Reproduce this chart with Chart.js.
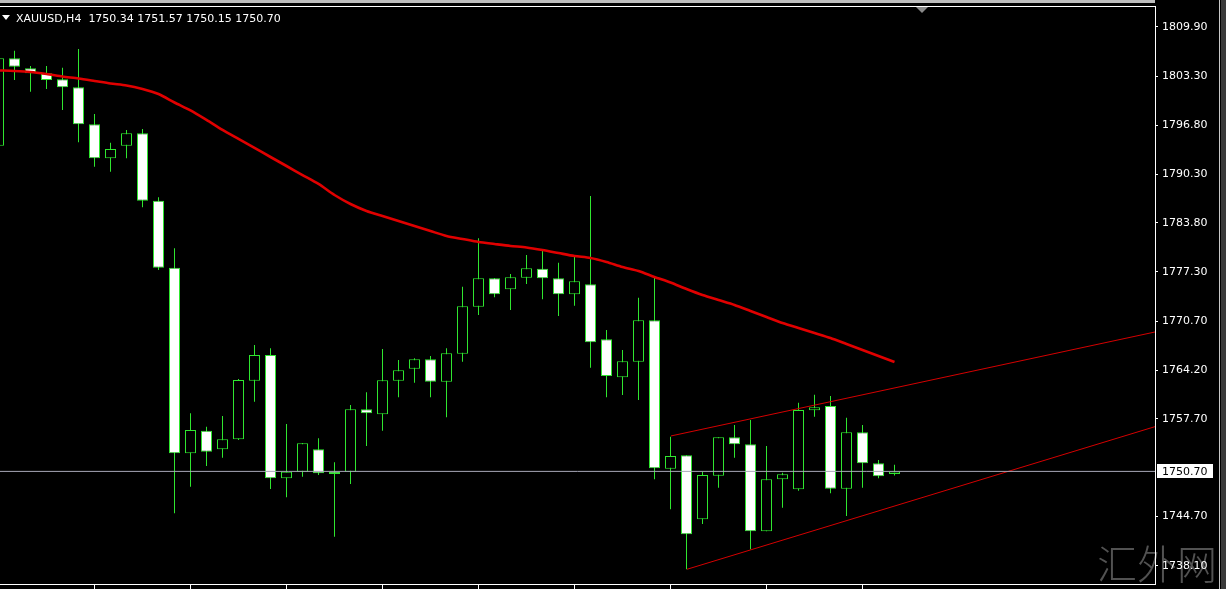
<!DOCTYPE html>
<html><head><meta charset="utf-8">
<style>html,body{margin:0;padding:0;background:#000;overflow:hidden}
#wrap{position:relative;width:1226px;height:589px}</style>
<script src="https://cdn.jsdelivr.net/npm/chart.js@4.4.0/dist/chart.umd.min.js"></script>
</head><body><div id="wrap"><canvas id="c"></canvas></div>
<script>
// ---- data (H4 bars, left to right) ----
const symbolLabel = 'XAUUSD,H4';
const bars = [0,1,2,3,4,5,6,7,8,9,10,11,12,13,14,15,16,17,18,19,20,21,22,23,24,25,26,27,28,29,30,31,32,33,34,35,36,37,38,39,40,41,42,43,44,45,46,47,48,49,50,51,52,53,54,55,56];
const opens = [1794.09,1805.73,1804.40,1803.73,1802.93,1801.87,1796.94,1792.41,1794.09,1795.74,1786.76,1777.84,1753.11,1756.12,1753.64,1754.98,1762.78,1766.21,1749.78,1750.66,1753.64,1750.66,1750.66,1758.97,1758.31,1762.78,1764.38,1765.63,1762.65,1766.38,1772.64,1776.42,1774.96,1776.50,1777.70,1776.42,1774.29,1775.62,1768.30,1763.24,1765.31,1770.83,1751.06,1752.85,1744.32,1750.13,1755.24,1754.31,1742.72,1749.65,1748.32,1758.84,1759.41,1748.40,1755.91,1751.78,1750.34];
const highs = [1806.20,1806.74,1804.70,1804.70,1804.48,1806.97,1798.31,1794.49,1796.18,1796.31,1787.21,1780.42,1758.44,1756.66,1758.08,1763.01,1767.54,1767.10,1757.02,1754.48,1755.11,1751.91,1759.55,1761.24,1767.01,1765.54,1765.77,1766.07,1767.10,1775.31,1781.75,1776.46,1777.00,1779.53,1780.19,1778.50,1779.44,1787.39,1769.54,1766.87,1773.84,1776.56,1755.32,1752.85,1750.66,1755.24,1756.88,1757.55,1754.08,1750.53,1759.85,1760.92,1760.75,1757.85,1756.88,1752.22,1751.57];
const lows = [1793.50,1802.84,1801.28,1801.64,1798.84,1794.54,1791.29,1790.62,1792.41,1785.88,1777.53,1745.12,1748.66,1751.42,1752.53,1754.88,1759.99,1748.36,1747.25,1749.99,1750.22,1742.00,1749.02,1754.08,1756.12,1760.57,1762.52,1760.57,1757.91,1765.31,1771.54,1773.89,1772.20,1775.67,1773.63,1771.40,1772.77,1764.52,1760.57,1760.88,1760.21,1749.65,1745.65,1737.66,1743.69,1748.53,1752.53,1740.32,1742.72,1745.87,1748.13,1757.99,1747.78,1744.76,1748.53,1749.78,1750.15];
const closes = [1805.73,1804.61,1803.73,1802.84,1801.87,1796.94,1792.41,1793.65,1795.74,1786.76,1777.84,1753.11,1756.22,1753.33,1754.98,1762.88,1766.21,1749.78,1750.66,1754.44,1750.45,1750.36,1758.97,1758.44,1762.84,1764.17,1765.63,1762.65,1766.43,1772.69,1776.42,1774.29,1776.56,1777.76,1776.42,1774.29,1776.02,1767.90,1763.41,1765.37,1770.83,1751.11,1752.75,1742.32,1750.22,1755.24,1754.31,1742.72,1749.65,1750.32,1758.88,1759.24,1748.40,1755.91,1751.78,1750.05,1750.70];
const maValues = [1804.11,1804.04,1803.91,1803.64,1803.31,1803.04,1802.71,1802.37,1802.11,1801.64,1800.97,1799.84,1798.78,1797.51,1796.18,1794.98,1793.78,1792.58,1791.38,1790.18,1788.99,1787.52,1786.32,1785.39,1784.72,1784.06,1783.39,1782.72,1782.06,1781.66,1781.26,1780.99,1780.73,1780.53,1780.19,1779.79,1779.39,1779.13,1778.60,1777.93,1777.40,1776.60,1775.86,1775.00,1774.20,1773.53,1772.87,1772.07,1771.27,1770.47,1769.80,1769.14,1768.47,1767.67,1766.87,1766.07,1765.27];
const upperTrendBars = [42.03, 72.28];
const upperTrendPrices = [1755.42, 1769.27];
const lowerTrendBars = [43.03, 72.28];
const lowerTrendPrices = [1737.66, 1756.66];
const priceTicks = [1809.90,1803.30,1796.80,1790.30,1783.80,1777.30,1770.70,1764.20,1757.70,1744.70,1738.10];
const timeTickBars = [6,12,18,24,30,36,42,48,54];
const lastBar = {open:1750.34, high:1751.57, low:1750.15, close:1750.70};
const watermark = '汇外网';

// ---- view range ----
const xMin = 0.09375, xMax = 72.28125;
const yMin = 1735.70, yMax = 1812.56;
const GREEN = '#2fe62f';
const bodyFill = closes.map((c,i)=> c >= opens[i] ? '#000000' : '#ffffff');

const extras = {
  id:'extras',
  beforeDraw(chart){
    const ctx = chart.ctx, a = chart.chartArea;
    ctx.save();
    ctx.fillStyle = '#000'; ctx.fillRect(0,0,chart.width,chart.height);
    ctx.fillStyle = '#bdbdbd'; ctx.fillRect(0,0,a.right,3);
    ctx.fillStyle = '#ffffff'; ctx.fillRect(0,a.top-1,a.right+1,1);
    ctx.fillStyle = '#c8c8c8'; ctx.fillRect(1219,0,1,chart.height);
    ctx.fillStyle = '#3a3a3a'; ctx.fillRect(1221,0,5,chart.height);
    ctx.font = '300 40px "Noto Sans CJK SC"';
    ctx.fillStyle = 'rgba(150,150,150,0.55)';
    ctx.textBaseline = 'alphabetic';
    ctx.fillText(watermark, 1097, 579);
    ctx.restore();
  },
  afterDraw(chart){
    const ctx = chart.ctx, a = chart.chartArea, ys = chart.scales.y;
    ctx.save();
    ctx.fillStyle = '#8a8a8a';
    ctx.beginPath(); ctx.moveTo(916,a.top); ctx.lineTo(928,a.top); ctx.lineTo(922,a.top+6); ctx.closePath(); ctx.fill();
    ctx.fillStyle = '#ffffff';
    ctx.beginPath(); ctx.moveTo(2,15); ctx.lineTo(10,15); ctx.lineTo(6,20); ctx.closePath(); ctx.fill();
    ctx.font = '11px "DejaVu Sans"';
    ctx.textBaseline = 'alphabetic';
    const hdr = symbolLabel + '  ' + [lastBar.open,lastBar.high,lastBar.low,lastBar.close].map(v=>v.toFixed(2)).join(' ');
    ctx.fillText(hdr, 16, 21.5);
    const y = ys.getPixelForValue(lastBar.close);
    ctx.fillStyle = '#ffffff';
    ctx.fillRect(a.right+2, Math.round(y)-7, 56, 14);
    ctx.fillStyle = '#000000';
    ctx.textBaseline = 'middle';
    ctx.fillText(lastBar.close.toFixed(2), a.right+7, y+0.5);
    ctx.restore();
  }
};

new Chart(document.getElementById('c'), {
  type:'bar',
  data:{datasets:[
    {type:'line', label:'bid', data:[{x:xMin,y:lastBar.close},{x:xMax,y:lastBar.close}], borderColor:'#a8a8b8', borderWidth:1, pointRadius:0, order:0},
    {type:'line', label:'MA', data:bars.map((b,i)=>({x:b,y:maValues[i]})), borderColor:'#e00000', borderWidth:2.6, pointRadius:0, tension:0.25, order:0},
    {type:'line', label:'upper', data:upperTrendBars.map((b,i)=>({x:b,y:upperTrendPrices[i]})), borderColor:'#d40000', borderWidth:1, pointRadius:0, order:0},
    {type:'line', label:'lower', data:lowerTrendBars.map((b,i)=>({x:b,y:lowerTrendPrices[i]})), borderColor:'#d40000', borderWidth:1, pointRadius:0, order:0},
    {type:'bar', label:'body', data:bars.map((b,i)=>({x:b,y:[opens[i],closes[i]]})), backgroundColor:bodyFill, borderColor:GREEN, borderWidth:1, borderSkipped:false, barThickness:11, grouped:false, inflateAmount:0, order:1},
    {type:'bar', label:'wick', data:bars.map((b,i)=>({x:b,y:[lows[i],highs[i]]})), backgroundColor:GREEN, borderWidth:0, barThickness:1, grouped:false, inflateAmount:0, order:2}
  ]},
  options:{
    responsive:true, maintainAspectRatio:false, animation:false, devicePixelRatio:1,
    layout:{padding:{top:7,left:0,right:0,bottom:0}},
    plugins:{legend:{display:false}, tooltip:{enabled:false}},
    scales:{
      x:{type:'linear', min:xMin, max:xMax, offset:false, position:'bottom',
        afterBuildTicks:s=>{s.ticks = timeTickBars.map(v=>({value:v}));},
        afterFit:s=>{s.height = 5; s.paddingLeft = 0; s.paddingRight = 0; s.paddingTop = 0; s.paddingBottom = 0;},
        grid:{display:true, drawOnChartArea:false, drawTicks:true, tickLength:5, color:'#ffffff', offset:false},
        border:{display:true, color:'#ffffff', width:1},
        ticks:{display:false}
      },
      y:{type:'linear', position:'right', min:yMin, max:yMax,
        afterBuildTicks:s=>{s.ticks = priceTicks.map(v=>({value:v}));},
        afterFit:s=>{s.width = 71; s.paddingTop = 0; s.paddingBottom = 0; s.paddingLeft = 0; s.paddingRight = 0;},
        grid:{drawOnChartArea:false, drawTicks:true, tickLength:3, color:'#ffffff'},
        border:{display:true, color:'#ffffff', width:1},
        ticks:{color:'#ffffff', font:{family:'DejaVu Sans', size:11}, padding:4, autoSkip:false, callback:v=>Number(v).toFixed(2)}
      }
    }
  },
  plugins:[extras]
});
</script></body></html>
